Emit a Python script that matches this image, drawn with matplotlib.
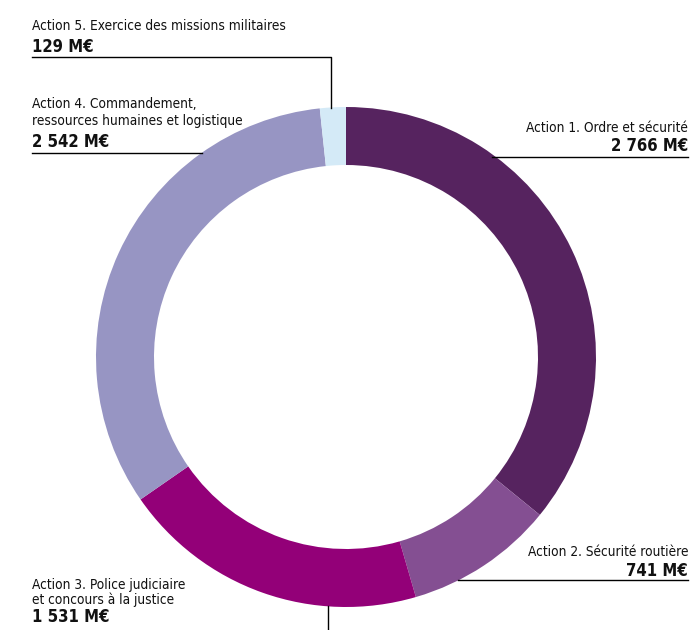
import matplotlib.pyplot as plt

# budget par action (M€)
actions = ["Action 1. Ordre et sécurité",
           "Action 2. Sécurité routière",
           "Action 3. Police judiciaire\net concours à la justice",
           "Action 4. Commandement,\nressources humaines et logistique",
           "Action 5. Exercice des missions militaires"]
values = [2766, 741, 1531, 2542, 129]
value_labels = ["2 766 M€", "741 M€", "1 531 M€", "2 542 M€", "129 M€"]
colors = ["#56235f", "#844f92", "#930078", "#9795c3", "#d4eaf7"]

FONT = ["DejaVu Sans Condensed", "DejaVu Sans"]
W, H = 690, 630

fig = plt.figure(figsize=(6.9, 6.3), dpi=100)
ax = fig.add_axes([0, 0, 1, 1])

cx, cy, r = 346, H - 357, 250
ax.pie(values, radius=r, center=(cx, cy), startangle=90, counterclock=False,
       colors=colors, wedgeprops=dict(width=58, linewidth=0))

ax.set_xlim(0, W)
ax.set_ylim(0, H)
ax.set_aspect("equal")
ax.axis("off")

def y(p):
    return H - p

lk = dict(color="black", lw=1)
# leader lines
ax.plot([32, 331, 331], [y(57), y(57), y(108)], **lk)          # action 5
ax.plot([32, 202], [y(153), y(153)], **lk)                     # action 4
ax.plot([492, 688], [y(157), y(157)], **lk)                    # action 1
ax.plot([458, 688], [y(580), y(580)], **lk)                    # action 2
ax.plot([328, 328], [y(606), y(630)], **lk)                    # action 3

tk = dict(family=FONT, fontsize=9.8, fontstretch="condensed", color="#111111")
bk = dict(family=FONT, fontsize=12, fontstretch="condensed",
          fontweight="bold", color="#111111")

# action 5
ax.text(32, y(30), actions[4], ha="left", va="baseline", **tk)
ax.text(32, y(52), value_labels[4], ha="left", va="baseline", **bk)
# action 4
ax.text(32, y(125), actions[3], ha="left", va="baseline",
        linespacing=1.3, **tk)
ax.text(32, y(147), value_labels[3], ha="left", va="baseline", **bk)
# action 1
ax.text(688, y(132), actions[0], ha="right", va="baseline", **tk)
ax.text(688, y(151), value_labels[0], ha="right", va="baseline", **bk)
# action 2
ax.text(688, y(556), actions[1], ha="right", va="baseline", **tk)
ax.text(688, y(576), value_labels[1], ha="right", va="baseline", **bk)
# action 3
ax.text(32, y(604), actions[2], ha="left", va="baseline",
        linespacing=1.0, **tk)
ax.text(32, y(622), value_labels[2], ha="left", va="baseline", **bk)

fig.savefig("out.png", dpi=100)
